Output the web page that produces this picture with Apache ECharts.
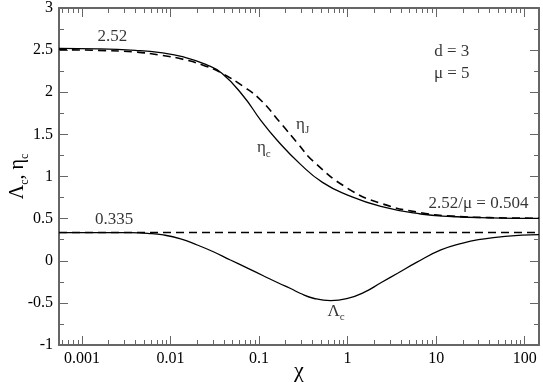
<!DOCTYPE html>
<html>
<head>
<meta charset="utf-8">
<script src="https://cdn.jsdelivr.net/npm/echarts@6/dist/echarts.min.js"></script>
<style>
  html, body { margin: 0; padding: 0; background: #fff; }
  #chart { width: 543px; height: 382px; }
</style>
</head>
<body>
<div id="chart"></div>
<script>
// x range (chi, log scale)
const xMin = 0.00055;
const xMax = 145;
const xTickValues = [0.001, 0.01, 0.1, 1, 10, 100];
const xTickLabels = ['0.001', '0.01', '0.1', '1', '10', '100'];

// eta_c (solid)
const etaCX = [0.00055, 0.0015, 0.004, 0.0077, 0.014, 0.025, 0.038, 0.067, 0.104, 0.16, 0.29, 0.52, 1.0, 2.37, 6.7, 15, 40, 145];
const etaCY = [2.52, 2.515, 2.497, 2.47, 2.42, 2.33, 2.225, 1.95, 1.67, 1.43, 1.15, 0.93, 0.78, 0.645, 0.555, 0.525, 0.51, 0.504];

// eta_J (dashed)
const etaJX = [0.00055, 0.0015, 0.004, 0.0077, 0.014, 0.025, 0.038, 0.067, 0.104, 0.175, 0.27, 0.41, 1.0, 2.37, 6.7, 15, 40, 145];
const etaJY = [2.505, 2.497, 2.478, 2.44, 2.39, 2.31, 2.225, 2.066, 1.908, 1.635, 1.4, 1.18, 0.86, 0.682, 0.57, 0.53, 0.512, 0.505];

// Lambda_c (solid)
const lamX = [0.00055, 0.0015, 0.0035, 0.0055, 0.0083, 0.013, 0.02, 0.03, 0.0475, 0.075, 0.113, 0.17, 0.227, 0.29, 0.42, 0.644, 1.0, 1.53, 2.4, 3.67, 6, 11.3, 20, 30, 60, 145];
const lamY = [0.335, 0.335, 0.333, 0.325, 0.306, 0.26, 0.187, 0.11, 0.009, -0.09, -0.181, -0.27, -0.329, -0.386, -0.448, -0.474, -0.448, -0.376, -0.258, -0.149, -0.02, 0.128, 0.21, 0.25, 0.29, 0.31];

// horizontal asymptote 0.335 (dashed)
const lamLimX = [xMin, xMax];
const lamLimY = [0.335, 0.335];

const lg = (v) => Math.log10(v);
const toPts = (xs, ys) => xs.map((x, i) => [lg(x), ys[i]]);

const xMajorLog = xTickValues.map(lg);
const xMinorLog = [];
for (let d = 0.0001; d < 1000; d *= 10) {
  for (let k = 2; k <= 9; k++) {
    const v = d * k;
    if (v >= xMin && v <= xMax) xMinorLog.push(lg(v));
  }
}

const serif = "'Liberation Serif', 'Times New Roman', serif";
const axisColor = '#666';
const rich = {
  a: { fontFamily: serif, fontSize: 17, color: '#000' },
  s: { fontFamily: serif, fontSize: 11, color: '#000', padding: [12, 0, 0, 0] },
};

function xAx(pos, ticks, len, withLabels, withLine) {
  return {
    type: 'value',
    position: pos,
    min: lg(xMin),
    max: lg(xMax),
    axisLine: { show: withLine, onZero: false, lineStyle: { color: axisColor, width: 2 } },
    axisTick: { show: true, inside: true, length: len, customValues: ticks, lineStyle: { color: axisColor, width: 1 } },
    axisLabel: withLabels ? {
      show: true,
      customValues: xMajorLog,
      formatter: (v) => xTickLabels[Math.round(v) + 3],
      fontFamily: serif, fontSize: 16, color: '#000', margin: 6,
    } : { show: false },
    splitLine: { show: false },
    name: withLabels ? 'χ' : '',
    nameLocation: 'middle',
    nameGap: 15,
    nameMoveOverlap: false,
    nameTextStyle: { fontFamily: serif, fontSize: 22, color: '#000' },
  };
}

function yAx(pos, withLabels) {
  return {
    type: 'value',
    position: pos,
    min: -1,
    max: 3,
    interval: 0.5,
    axisLine: { show: true, onZero: false, lineStyle: { color: axisColor, width: 2 } },
    axisTick: { show: true, inside: true, length: 9, lineStyle: { color: axisColor, width: 1 } },
    minorTick: { show: true, splitNumber: 2, length: 5, lineStyle: { color: axisColor, width: 1 } },
    axisLabel: { show: withLabels, fontFamily: serif, fontSize: 16, color: '#000', margin: 6 },
    splitLine: { show: false },
    name: withLabels ? '{a|Λ}{s|c}{a|, η}{s|c}' : '',
    nameLocation: 'middle',
    nameGap: 28,
    nameMoveOverlap: false,
    nameRotate: 90,
    nameTextStyle: {
      rich: {
        a: { fontFamily: serif, fontSize: 20, color: '#000' },
        s: { fontFamily: serif, fontSize: 12, color: '#000', padding: [14, 0, 0, 0] },
      },
    },
  };
}

function note(x, y, text) {
  return { value: [lg(x), y], label: { formatter: text } };
}

const notes = [
  note(0.0022, 2.656, '{a|2.52}'),
  note(0.0023, 0.484, '{a|0.335}'),
  note(30, 0.674, '{a|2.52/μ = 0.504}'),
  note(15, 2.48, '{a|d = 3}'),
  note(15, 2.22, '{a|μ = 5}'),
  note(0.31, 1.62, '{a|η}{s|J}'),
  note(0.113, 1.34, '{a|η}{s|c}'),
  note(0.74, -0.6, '{a|Λ}{s|c}'),
];

const chart = echarts.init(document.getElementById('chart'));
const lineBase = { type: 'line', showSymbol: false, symbol: 'none', smooth: 0.5, xAxisIndex: 0, yAxisIndex: 0, z: 3 };
chart.setOption({
  animation: false,
  backgroundColor: '#fff',
  grid: { left: 59, right: 4, top: 8, bottom: 37, containLabel: false, outerBoundsMode: 'none' },
  xAxis: [
    xAx('bottom', xMajorLog, 9, true, true),
    xAx('bottom', xMinorLog, 5, false, false),
    xAx('top', xMajorLog, 9, false, true),
    xAx('top', xMinorLog, 5, false, false),
  ],
  yAxis: [yAx('left', true), yAx('right', false)],
  series: [
    Object.assign({}, lineBase, { name: 'eta_c', data: toPts(etaCX, etaCY), lineStyle: { color: '#000', width: 1.3 } }),
    Object.assign({}, lineBase, { name: 'eta_J', data: toPts(etaJX, etaJY), lineStyle: { color: '#000', width: 1.6, type: [8, 5] } }),
    Object.assign({}, lineBase, { name: 'Lambda_c', data: toPts(lamX, lamY), lineStyle: { color: '#000', width: 1.3 } }),
    Object.assign({}, lineBase, { name: 'limit', smooth: false, data: toPts(lamLimX, lamLimY), lineStyle: { color: '#000', width: 1.6, type: [8, 5] } }),
    {
      type: 'scatter',
      symbolSize: 0,
      xAxisIndex: 0,
      yAxisIndex: 0,
      silent: true,
      data: notes,
      label: { show: true, position: 'inside', rich: rich },
    },
  ],
});
</script>
</body>
</html>
